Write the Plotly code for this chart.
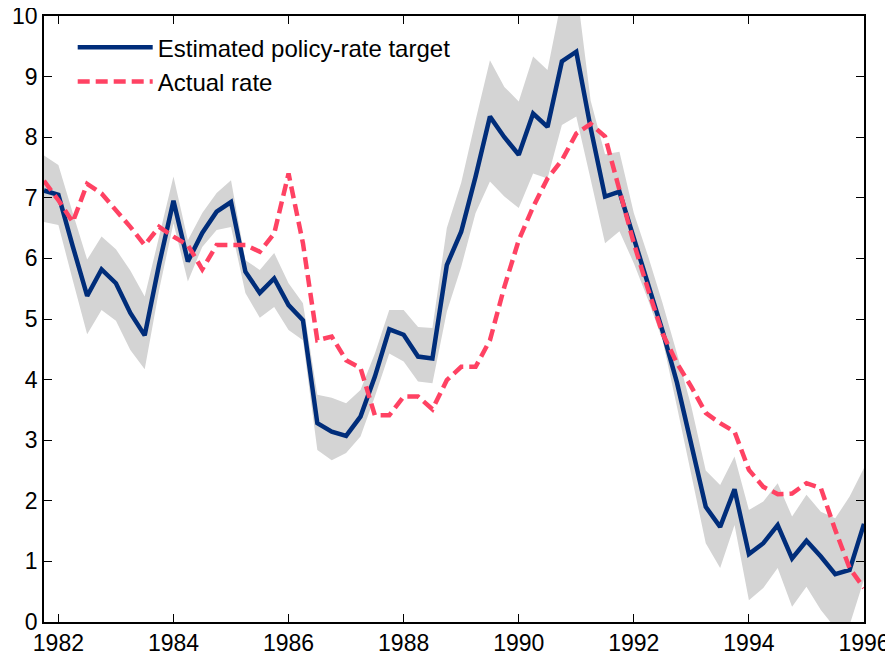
import plotly.graph_objects as go

quarters = [1981.75, 1982.0, 1982.25, 1982.5, 1982.75, 1983.0, 1983.25, 1983.5, 1983.75,
            1984.0, 1984.25, 1984.5, 1984.75, 1985.0, 1985.25, 1985.5, 1985.75,
            1986.0, 1986.25, 1986.5, 1986.75, 1987.0, 1987.25, 1987.5, 1987.75,
            1988.0, 1988.25, 1988.5, 1988.75, 1989.0, 1989.25, 1989.5, 1989.75,
            1990.0, 1990.25, 1990.5, 1990.75, 1991.0, 1991.25, 1991.5, 1991.75,
            1992.0, 1992.25, 1992.5, 1992.75, 1993.0, 1993.25, 1993.5, 1993.75,
            1994.0, 1994.25, 1994.5, 1994.75, 1995.0, 1995.25, 1995.5, 1995.75,
            1996.0]

target = [7.12, 7.05, 6.2, 5.38, 5.82, 5.59, 5.1, 4.73, 5.9, 6.95,
          5.95, 6.42, 6.77, 6.93, 5.78, 5.43, 5.67, 5.23, 4.98, 3.28,
          3.14, 3.07, 3.39, 4.05, 4.83, 4.74, 4.38, 4.35, 5.89, 6.44,
          7.35, 8.34, 8.0, 7.71, 8.39, 8.17, 9.25, 9.41, 8.15, 7.02,
          7.1, 6.32, 5.58, 4.8, 3.95, 2.9, 1.9, 1.57, 2.19, 1.12,
          1.3, 1.6, 1.05, 1.34, 1.08, 0.79, 0.86, 1.62]

upper = [7.7, 7.54, 6.75, 5.98, 6.36, 6.15, 5.8, 5.37, 6.36, 7.35,
         6.3, 6.75, 7.08, 7.29, 5.97, 5.81, 6.09, 5.59, 5.26, 3.75,
         3.7, 3.61, 3.83, 4.43, 5.15, 5.15, 4.87, 4.85, 6.5, 7.25,
         8.28, 9.27, 8.83, 8.59, 9.33, 9.11, 10.3, 10.5, 8.6, 7.72,
         7.76, 6.75, 6.03, 5.26, 4.43, 3.55, 2.5, 2.26, 2.73, 1.85,
         1.99, 2.29, 1.74, 2.1, 1.82, 1.71, 2.07, 2.54]

lower = [6.6, 6.55, 5.64, 4.75, 5.15, 4.97, 4.49, 4.17, 5.48, 6.58,
         5.62, 6.19, 6.47, 6.52, 5.43, 5.02, 5.2, 4.82, 4.65, 2.84,
         2.67, 2.79, 3.06, 3.72, 4.43, 4.3, 3.97, 3.94, 5.12, 5.86,
         6.75, 7.27, 7.02, 6.83, 7.4, 7.32, 8.2, 8.34, 7.3, 6.25,
         6.45, 5.92, 5.31, 4.65, 3.55, 2.4, 1.3, 0.89, 1.6, 0.36,
         0.56, 0.89, 0.25, 0.58, 0.2, -0.1, -0.05, 0.7]

actual = [7.28, 6.96, 6.6, 7.23, 7.07, 6.8, 6.52, 6.22, 6.52, 6.36,
          6.22, 5.82, 6.22, 6.22, 6.22, 6.11, 6.41, 7.4, 6.25, 4.65,
          4.71, 4.32, 4.19, 3.41, 3.41, 3.72, 3.72, 3.51, 3.99, 4.21,
          4.21, 4.65, 5.53, 6.3, 6.85, 7.32, 7.62, 8.06, 8.22, 8.01,
          7.15, 6.25, 5.48, 4.76, 4.27, 3.88, 3.45, 3.28, 3.14, 2.51,
          2.23, 2.11, 2.12, 2.29, 2.21, 1.52, 0.89, 0.56]

x_ticks = [1982, 1984, 1986, 1988, 1990, 1992, 1994, 1996]
y_ticks = [0, 1, 2, 3, 4, 5, 6, 7, 8, 9, 10]

BLUE = "#002d7a"
RED = "#ff4263"
GREY = "#d4d4d4"
FONT = "Liberation Sans"

fig = go.Figure()
fig.add_trace(go.Scatter(x=quarters, y=lower, mode="lines", line=dict(width=0),
                         showlegend=False, hoverinfo="skip"))
fig.add_trace(go.Scatter(x=quarters, y=upper, mode="lines", line=dict(width=0),
                         fill="tonexty", fillcolor=GREY, showlegend=False, hoverinfo="skip"))
fig.add_trace(go.Scatter(x=quarters, y=target, mode="lines",
                         name="Estimated policy-rate target",
                         line=dict(color=BLUE, width=4.5)))
fig.add_trace(go.Scatter(x=quarters, y=actual, mode="lines", name="Actual rate",
                         line=dict(color=RED, width=4.5, dash="12px,6px")))

axis_common = dict(showline=True, linecolor="black", linewidth=1.5, mirror="ticks",
                   ticks="inside", ticklen=8, tickwidth=1, tickcolor="black",
                   showgrid=False, zeroline=False, automargin=False,
                   ticklabeloverflow="allow",
                   tickfont=dict(family=FONT, size=23, color="black"))

fig.update_xaxes(range=[1981.75, 1996], tickvals=x_ticks,
                 ticktext=[str(v) for v in x_ticks], **axis_common)
fig.update_yaxes(range=[0, 10], tickvals=y_ticks, **axis_common)

# page body adds an 8px margin, so the figure is sized 8px smaller on each axis
fig.update_layout(
    width=885, height=645,
    margin=dict(l=36, r=29, t=8, b=31),
    plot_bgcolor="white", paper_bgcolor="white",
    font=dict(family=FONT, size=23, color="black"),
    legend=dict(x=0.035, y=0.985, xanchor="left", yanchor="top",
                traceorder="normal",
                bgcolor="rgba(0,0,0,0)", font=dict(family=FONT, size=24, color="black"),
                itemwidth=75, tracegroupgap=0),
)

fig.write_html("out.html")
